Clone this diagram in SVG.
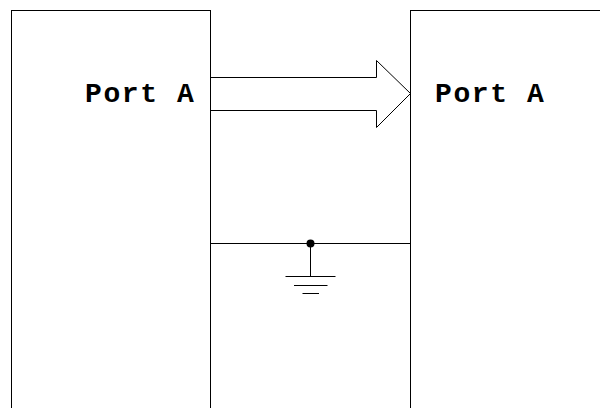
<svg xmlns="http://www.w3.org/2000/svg" width="600" height="408" viewBox="0 0 600 408">
<style>
.box{fill:#fff;stroke:#000;stroke-width:1}
.w{fill:none;stroke:#000;stroke-width:1}
.lbl{font-family:"Liberation Mono","Courier New",monospace;font-weight:bold;font-size:28px;letter-spacing:1.6px;fill:#000}
</style>
<rect width="600" height="408" fill="#fff"/>
<g id="left">
<rect class="box" x="11.5" y="10.5" width="199" height="420"/>
<text class="lbl" x="85" y="101.5">Port A</text>
</g>
<g id="right">
<rect class="box" x="410.5" y="10.5" width="220" height="420"/>
<text class="lbl" x="435" y="101.5">Port A</text>
</g>
<g id="connectors">
<path class="w" d="M210.5 77.5H376.5V60.5L410.5 93.5L376.5 127.5V110.5H210.5"/>
<path class="w" d="M210.5 243.5H410.5M310.5 243.5V276.5M285.5 276.5H335.5M294 285.5H327.5M302.5 293.5H319"/>
<circle cx="310.5" cy="243.5" r="4" fill="#000"/>
</g>
</svg>
